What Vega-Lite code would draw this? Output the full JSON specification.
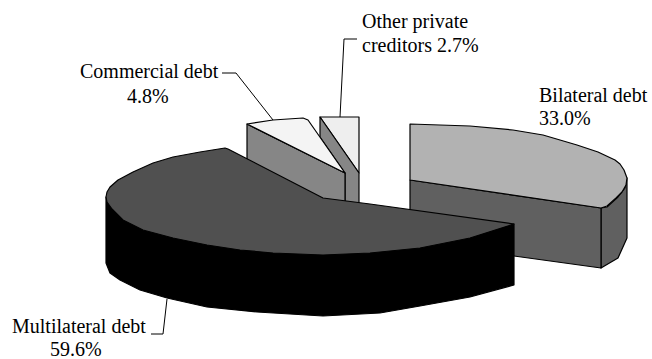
{
  "$schema": "https://vega.github.io/schema/vega-lite/v6.json",
  "width": 652,
  "height": 359,
  "padding": 0,
  "autosize": {"type": "none"},
  "background": "white",
  "view": {"stroke": null},
  "config": {"text": {"font": "Liberation Serif"}},
  "datasets": {
    "outlines": [
      {"piece":"Bilateral rim","i":1,"x":601,"y":208},{"piece":"Bilateral rim","i":2,"x":607,"y":207},{"piece":"Bilateral rim","i":3,"x":618,"y":197},{"piece":"Bilateral rim","i":4,"x":625,"y":188},{"piece":"Bilateral rim","i":5,"x":627,"y":178},{"piece":"Bilateral rim","i":6,"x":627,"y":238},{"piece":"Bilateral rim","i":7,"x":618,"y":258},{"piece":"Bilateral rim","i":8,"x":601,"y":268},
      {"piece":"Bilateral cut","i":1,"x":410,"y":180},{"piece":"Bilateral cut","i":2,"x":601,"y":208},{"piece":"Bilateral cut","i":3,"x":601,"y":268},{"piece":"Bilateral cut","i":4,"x":514,"y":256},{"piece":"Bilateral cut","i":5,"x":410,"y":240},
      {"piece":"Bilateral top","i":1,"x":410,"y":124},{"piece":"Bilateral top","i":2,"x":470,"y":126},{"piece":"Bilateral top","i":3,"x":513,"y":130},{"piece":"Bilateral top","i":4,"x":543,"y":135},{"piece":"Bilateral top","i":5,"x":577,"y":145},{"piece":"Bilateral top","i":6,"x":598,"y":152},{"piece":"Bilateral top","i":7,"x":615,"y":160},{"piece":"Bilateral top","i":8,"x":620,"y":164},{"piece":"Bilateral top","i":9,"x":624,"y":170},{"piece":"Bilateral top","i":10,"x":627,"y":178},{"piece":"Bilateral top","i":11,"x":626,"y":185},{"piece":"Bilateral top","i":12,"x":622,"y":192},{"piece":"Bilateral top","i":13,"x":616,"y":198},{"piece":"Bilateral top","i":14,"x":607,"y":206},{"piece":"Bilateral top","i":15,"x":601,"y":208},{"piece":"Bilateral top","i":16,"x":410,"y":180},
      {"piece":"Other top","i":1,"x":320,"y":117},{"piece":"Other top","i":2,"x":359,"y":117},{"piece":"Other top","i":3,"x":359,"y":173},
      {"piece":"Other cut","i":1,"x":320,"y":117},{"piece":"Other cut","i":2,"x":359,"y":173},{"piece":"Other cut","i":3,"x":359,"y":204},{"piece":"Other cut","i":4,"x":345,"y":202},{"piece":"Other cut","i":5,"x":345,"y":173},{"piece":"Other cut","i":6,"x":320,"y":137},
      {"piece":"Commercial cut","i":1,"x":247,"y":124},{"piece":"Commercial cut","i":2,"x":345,"y":173},{"piece":"Commercial cut","i":3,"x":345,"y":204},{"piece":"Commercial cut","i":4,"x":323,"y":200},{"piece":"Commercial cut","i":5,"x":247,"y":162},
      {"piece":"Commercial top","i":1,"x":247,"y":124},{"piece":"Commercial top","i":2,"x":273,"y":120},{"piece":"Commercial top","i":3,"x":303,"y":118},{"piece":"Commercial top","i":4,"x":308,"y":120},{"piece":"Commercial top","i":5,"x":345,"y":173},
      {"piece":"Multilateral side","i":1,"x":106,"y":197},{"piece":"Multilateral side","i":2,"x":143,"y":230},{"piece":"Multilateral side","i":3,"x":323,"y":255},{"piece":"Multilateral side","i":4,"x":514,"y":224},{"piece":"Multilateral side","i":5,"x":514,"y":285},{"piece":"Multilateral side","i":6,"x":470,"y":297},{"piece":"Multilateral side","i":7,"x":420,"y":306},{"piece":"Multilateral side","i":8,"x":380,"y":313},{"piece":"Multilateral side","i":9,"x":323,"y":316},{"piece":"Multilateral side","i":10,"x":257,"y":312},{"piece":"Multilateral side","i":11,"x":207,"y":307},{"piece":"Multilateral side","i":12,"x":167,"y":298},{"piece":"Multilateral side","i":13,"x":140,"y":290},{"piece":"Multilateral side","i":14,"x":120,"y":280},{"piece":"Multilateral side","i":15,"x":110,"y":273},{"piece":"Multilateral side","i":16,"x":106,"y":263},
      {"piece":"Multilateral top","i":1,"x":323,"y":198},{"piece":"Multilateral top","i":2,"x":228,"y":149},{"piece":"Multilateral top","i":3,"x":225,"y":148},{"piece":"Multilateral top","i":4,"x":200,"y":152},{"piece":"Multilateral top","i":5,"x":173,"y":157},{"piece":"Multilateral top","i":6,"x":153,"y":163},{"piece":"Multilateral top","i":7,"x":133,"y":172},{"piece":"Multilateral top","i":8,"x":118,"y":180},{"piece":"Multilateral top","i":9,"x":110,"y":187},{"piece":"Multilateral top","i":10,"x":107,"y":192},{"piece":"Multilateral top","i":11,"x":106,"y":197},{"piece":"Multilateral top","i":12,"x":107,"y":202},{"piece":"Multilateral top","i":13,"x":112,"y":209},{"piece":"Multilateral top","i":14,"x":123,"y":220},{"piece":"Multilateral top","i":15,"x":143,"y":230},{"piece":"Multilateral top","i":16,"x":173,"y":238},{"piece":"Multilateral top","i":17,"x":207,"y":245},{"piece":"Multilateral top","i":18,"x":240,"y":250},{"piece":"Multilateral top","i":19,"x":273,"y":253},{"piece":"Multilateral top","i":20,"x":323,"y":255},{"piece":"Multilateral top","i":21,"x":370,"y":253},{"piece":"Multilateral top","i":22,"x":420,"y":248},{"piece":"Multilateral top","i":23,"x":470,"y":238},{"piece":"Multilateral top","i":24,"x":514,"y":224},{"piece":"Multilateral top","i":25,"x":370,"y":204}
    ],
    "leaders": [
      {"label":"Commercial debt","i":1,"x":222,"y":73},{"label":"Commercial debt","i":2,"x":236,"y":73},{"label":"Commercial debt","i":3,"x":273,"y":120},
      {"label":"Other private creditors","i":1,"x":357,"y":39},{"label":"Other private creditors","i":2,"x":344,"y":39},{"label":"Other private creditors","i":3,"x":340,"y":117},
      {"label":"Multilateral debt","i":1,"x":151,"y":334},{"label":"Multilateral debt","i":2,"x":163,"y":334},{"label":"Multilateral debt","i":3,"x":167,"y":299}
    ],
    "labels": [
      {"text":"Other private","x":362,"y":28},
      {"text":"creditors 2.7%","x":362,"y":52},
      {"text":"Commercial debt","x":80,"y":78},
      {"text":"4.8%","x":127,"y":103},
      {"text":"Bilateral debt","x":539,"y":102},
      {"text":"33.0%","x":539,"y":125},
      {"text":"Multilateral debt","x":12,"y":333},
      {"text":"59.6%","x":50,"y":356}
    ]
  },
  "layer": [
    {
      "data": {"name": "outlines"},
      "mark": {"type": "line", "interpolate": "linear-closed", "stroke": "#000000", "strokeWidth": 1.2, "strokeJoin": "round"},
      "encoding": {
        "x": {"field": "x", "type": "quantitative", "scale": {"domain": [0, 652]}, "axis": null},
        "y": {"field": "y", "type": "quantitative", "scale": {"domain": [359, 0]}, "axis": null},
        "order": {"field": "i", "type": "quantitative"},
        "fill": {
          "field": "piece",
          "type": "nominal",
          "legend": null,
          "scale": {
            "domain": ["Bilateral rim", "Bilateral cut", "Bilateral top", "Other top", "Other cut", "Commercial cut", "Commercial top", "Multilateral side", "Multilateral top"],
            "range": ["#606060", "#606060", "#b2b2b2", "#eeeeee", "#868686", "#868686", "#f4f4f4", "#000000", "#505050"]
          }
        }
      }
    },
    {
      "data": {"name": "leaders"},
      "mark": {"type": "line", "stroke": "#000000", "strokeWidth": 1},
      "encoding": {
        "x": {"field": "x", "type": "quantitative", "scale": {"domain": [0, 652]}, "axis": null},
        "y": {"field": "y", "type": "quantitative", "scale": {"domain": [359, 0]}, "axis": null},
        "order": {"field": "i", "type": "quantitative"},
        "detail": {"field": "label", "type": "nominal"}
      }
    },
    {
      "data": {"name": "labels"},
      "mark": {"type": "text", "align": "left", "baseline": "alphabetic", "font": "Liberation Serif", "fontSize": 20, "color": "#000000"},
      "encoding": {
        "x": {"field": "x", "type": "quantitative", "scale": {"domain": [0, 652]}, "axis": null},
        "y": {"field": "y", "type": "quantitative", "scale": {"domain": [359, 0]}, "axis": null},
        "text": {"field": "text", "type": "nominal"}
      }
    }
  ]
}
